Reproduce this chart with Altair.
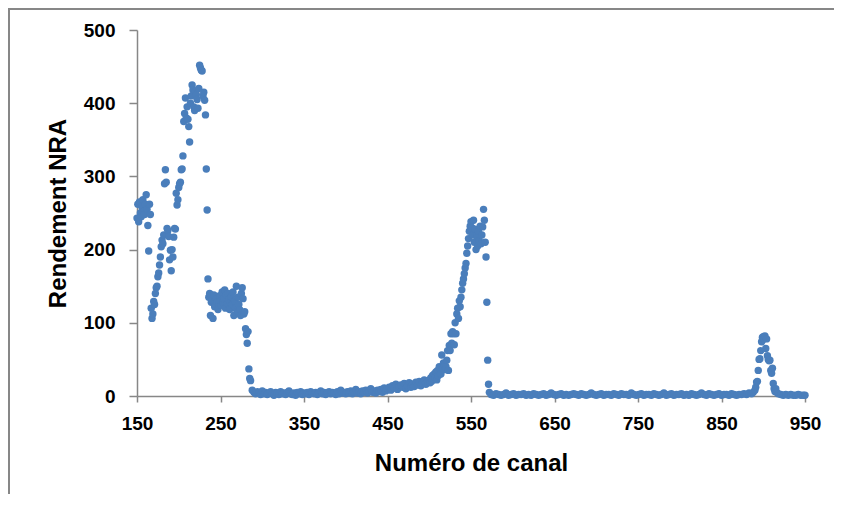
import altair as alt
import pandas as pd

# ---- data ----
# explicit (channel, yield) pairs for the structured parts
peak1_x = [150, 151, 152, 153, 154, 155, 156, 157, 158, 159, 160, 161, 162, 163, 164, 165,
           166, 167, 168, 169, 170, 171, 172, 173, 174, 175, 176, 177, 178, 179, 180, 181,
           182, 183, 184, 185, 186, 187, 188, 189, 190, 191, 192, 193, 194, 195, 196, 197,
           198, 199, 200, 201, 202, 203, 204, 205, 206, 207, 208, 209, 210, 211, 212, 213,
           214, 215, 216, 217, 218, 219, 220, 221, 222, 223, 224, 225, 226, 227, 228, 229,
           230, 231, 232, 233, 234, 235, 236, 237, 238, 239, 240, 241, 242, 243, 244, 245,
           246, 247, 248, 249, 250, 251, 252, 253, 254, 255, 256, 257, 258, 259, 260, 261,
           262, 263, 264, 265, 266, 267, 268, 269, 270, 271, 272, 273, 274, 275, 276, 277,
           278, 279, 280, 281, 282, 283, 284, 285, 286]
peak1_y = [243, 262, 238, 265, 250, 245, 258, 268, 252, 248, 262, 275, 255, 233, 198, 262,
           248, 120, 106, 112, 129, 125, 140, 148, 150, 163, 168, 179, 190, 204, 213, 208,
           220, 290, 309, 292, 229, 226, 218, 186, 199, 171, 200, 190, 217, 229, 228, 277,
           261, 268, 285, 290, 292, 309, 310, 328, 375, 386, 407, 380, 395, 378, 368, 347,
           400, 410, 425, 418, 395, 390, 416, 412, 405, 393, 420, 452, 448, 445, 444, 410,
           415, 404, 384, 310, 254, 160, 135, 140, 110, 128, 132, 106, 138, 122, 130, 133,
           128, 118, 125, 137, 130, 124, 142, 128, 133, 145, 120, 138, 126, 140, 132, 118,
           128, 136, 125, 142, 110, 130, 120, 150, 115, 135, 125, 118, 110, 140, 148, 133,
           112, 115, 92, 84, 72, 88, 37, 24, 21]

base1_start, base1_step = 288, 2
base1_y = [8, 5, 3, 6, 4, 2, 7, 3, 5, 2,
           4, 6, 3, 1, 5, 4, 2, 6, 3, 4,
           2, 5, 7, 3, 2, 4, 1, 5, 3, 6,
           2, 4, 3, 5, 2, 6, 4, 3, 5, 2,
           4, 7, 3, 5, 2, 4, 6, 3, 5, 4,
           2, 6, 3, 8, 4, 5, 3, 6, 4, 7,
           3, 5, 9, 4, 6, 3, 7, 5, 8, 4,
           6, 10, 5, 7, 4, 8, 6, 9, 5, 11]

base2_start, base2_step = 448, 2
base2_y = [7, 10, 12, 8, 14, 11, 16, 9, 13, 15,
           12, 17, 10, 14, 18, 12, 16, 13, 19, 15,
           20, 14, 18, 22, 16, 20]

peak2_x = [500, 501, 502, 503, 504, 505, 506, 507, 508, 509, 510, 511, 512, 513, 514, 515,
           516, 517, 518, 519, 520, 521, 522, 523, 524, 525, 526, 527, 528, 529, 530, 531,
           532, 533, 534, 535, 536, 537, 538, 539, 540, 541, 542, 543, 544, 545, 546, 547,
           548, 549, 550, 551, 552, 553, 554, 555, 556, 557, 558, 559, 560, 561, 562, 563,
           564, 565, 566, 567, 568, 569, 570, 571, 572]
peak2_y = [22, 18, 25, 20, 28, 24, 30, 26, 33, 22, 35, 28, 40, 32, 30, 56,
           38, 45, 42, 36, 40, 49, 62, 35, 69, 62, 85, 72, 88, 85, 70, 100,
           85, 112, 120, 106, 130, 122, 135, 145, 154, 160, 167, 175, 181, 195, 205, 215,
           225, 232, 238, 230, 220, 240, 210, 228, 200, 218, 205, 225, 212, 232, 208, 220,
           231, 255, 240, 210, 190, 128, 49, 16, 5]

base3_start, base3_step = 574, 3
base3_y = [2, 1, 3, 2, 1, 2, 4, 1, 2, 3,
           1, 2, 2, 3, 1, 2, 1, 3, 2, 1,
           2, 3, 1, 2, 4, 2, 1, 2, 3, 1,
           2, 1, 2, 3, 2, 1, 3, 2, 1, 2,
           4, 2, 1, 2, 3, 1, 2, 2, 1, 3,
           2, 1, 3, 2, 2, 1, 4, 2, 1, 2,
           3, 1, 2, 2, 1, 3, 2, 1, 2, 4,
           1, 2, 3, 1, 2, 2, 3, 1, 2, 1,
           3, 2, 1, 2, 4, 2, 1, 3, 2, 1,
           2, 3, 1, 2, 2, 1, 3, 2, 1, 2]

peak3_x = [874, 877, 880, 883, 886, 888, 890, 891, 892, 893, 894, 895, 896, 897, 898, 899,
           900, 901, 902, 903, 904, 905, 906, 907, 908, 909, 910, 911, 912, 913, 914, 915,
           916, 918, 921, 924, 927, 930, 933, 936, 939, 942, 945, 948, 950]
peak3_y = [2, 3, 2, 4, 3, 5, 8, 12, 19, 20, 35, 50, 51, 62, 74, 80,
           81, 78, 82, 65, 78, 55, 50, 48, 49, 35, 31, 38, 17, 10, 6, 10,
           5, 3, 2, 1, 2, 1, 2, 1, 1, 2, 1, 1, 1]

x_ticks = [150, 250, 350, 450, 550, 650, 750, 850, 950]
y_ticks = [0, 100, 200, 300, 400, 500]

# ---- assemble table ----
xs, ys = [], []
xs += peak1_x; ys += peak1_y
xs += [base1_start + i * base1_step for i in range(len(base1_y))]; ys += base1_y
xs += [base2_start + i * base2_step for i in range(len(base2_y))]; ys += base2_y
xs += peak2_x; ys += peak2_y
xs += [base3_start + i * base3_step for i in range(len(base3_y))]; ys += base3_y
xs += peak3_x; ys += peak3_y
df = pd.DataFrame({"canal": xs, "rendement": ys})

W, H = 668, 366
PAD = {"left": 129, "top": 22, "right": 29, "bottom": 98}
GRAY = "#878787"
FONT = "Liberation Sans"
LBL = 19
TTL = 24

points = alt.Chart(df).mark_circle(size=55, color="#4A7EBB", opacity=1).encode(
    x=alt.X("canal:Q",
            scale=alt.Scale(domain=[150, 950], nice=False, zero=False),
            axis=alt.Axis(values=x_ticks, title="Numéro de canal", grid=False,
                          labelFlush=False, labelOverlap=False,
                          domainColor=GRAY, domainWidth=1.5, tickColor=GRAY, tickWidth=1.5,
                          tickSize=6, labelPadding=12, labelFontSize=LBL, labelFont=FONT,
                          labelFontWeight="bold", labelColor="black",
                          titleFont=FONT, titleFontSize=TTL, titleFontWeight="bold",
                          titleColor="black", titleY=67, titleBaseline="middle")),
    y=alt.Y("rendement:Q",
            scale=alt.Scale(domain=[0, 500], nice=False),
            axis=alt.Axis(values=y_ticks, title="Rendement NRA", grid=False,
                          labelFlush=False, labelOverlap=False,
                          domainColor=GRAY, domainWidth=1.5, tickColor=GRAY, tickWidth=1.5,
                          tickSize=8, labelPadding=14, labelFontSize=LBL, labelFont=FONT,
                          labelFontWeight="bold", labelColor="black",
                          titleFont=FONT, titleFontSize=TTL, titleFontWeight="bold",
                          titleColor="black", titleX=-79, titleY=H / 2,
                          titleBaseline="middle", titleAlign="center")),
)

# outer chart frame (only its top and left edges fall inside the page)
frame_df = pd.DataFrame({"k": [0]})
frame = alt.Chart(frame_df).mark_rect(fill=None, stroke=GRAY, strokeWidth=2).encode(
    x=alt.value(-128), x2=alt.value(W + 80), y=alt.value(-21), y2=alt.value(H + 160))

chart = alt.layer(points, frame).properties(
    width=W, height=H, padding=PAD,
    autosize=alt.AutoSizeParams(type="none"),
).configure_view(stroke=None)

chart.save("out.html", embed_options={"renderer": "svg", "actions": False})
